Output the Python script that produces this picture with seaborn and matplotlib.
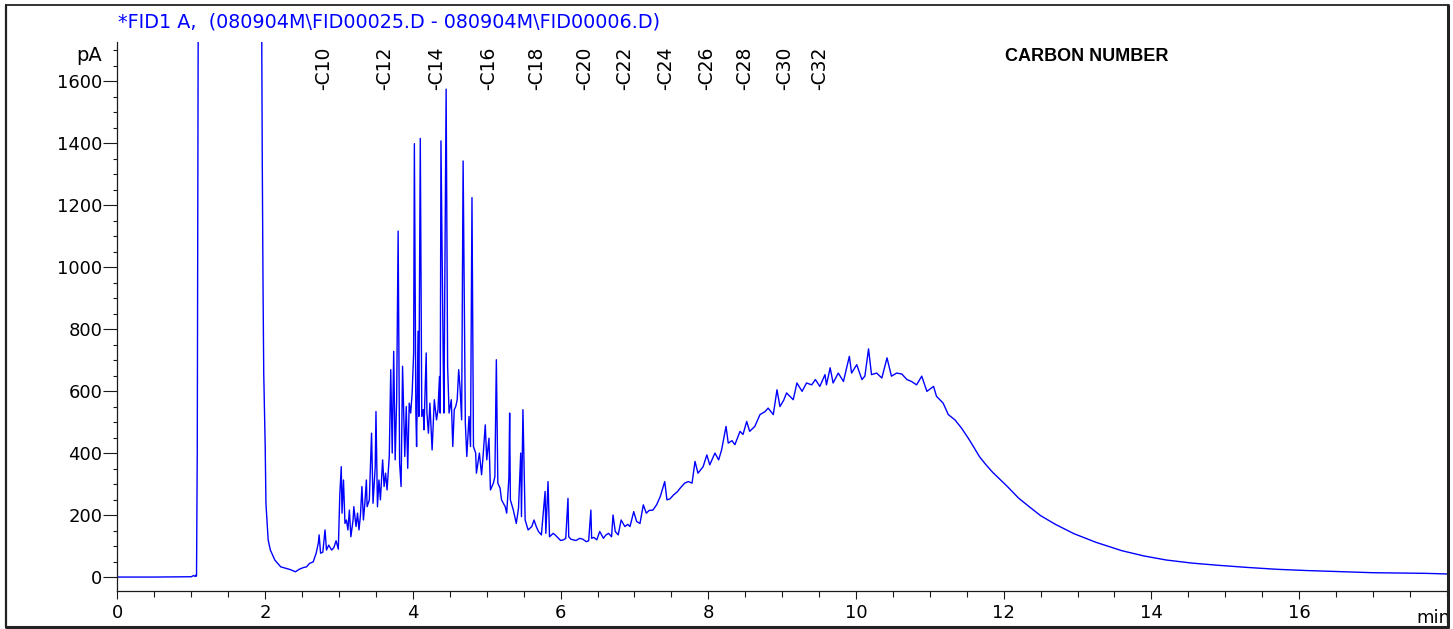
import pandas as pd
import matplotlib
matplotlib.use("Agg")
import matplotlib.pyplot as plt
import seaborn as sns
from matplotlib.ticker import MultipleLocator

# --- trace, split into retention-time segments ---
# solvent front (goes off scale between ~1.1 and ~1.95 min)
solvent_t = [0.0, 0.5, 1.0, 1.03, 1.05, 1.06, 1.07, 1.08, 1.10, 1.12, 1.90, 1.94,
             1.955, 1.96, 1.97, 1.98, 2.00, 2.01, 2.03, 2.04, 2.07, 2.13, 2.21,
             2.28, 2.34, 2.41, 2.46]
solvent_pa = [0, 0, 1, 5, 2, 6, 3, 400, 2600, 9000, 9000, 2600,
              1606, 1358, 960, 659, 421, 238, 163, 120, 87, 55, 33,
              28, 24, 17, 25]

early_t = [2.51, 2.56, 2.60, 2.65, 2.69, 2.72, 2.73, 2.75, 2.78, 2.81, 2.83, 2.86,
           2.90, 2.93, 2.96, 2.99]
early_pa = [30, 33, 44, 49, 77, 110, 136, 77, 80, 152, 87, 103,
            87, 95, 117, 90]

# resolved n-alkane cluster C11 - C16
cluster_t = [3.01, 3.03, 3.04, 3.06, 3.08, 3.10, 3.12, 3.14, 3.16, 3.19, 3.20,
             3.23, 3.25, 3.27, 3.29, 3.31, 3.33, 3.35, 3.37, 3.38, 3.41,
             3.43, 3.44, 3.46, 3.49, 3.50, 3.52, 3.54, 3.56, 3.59, 3.61,
             3.63, 3.65, 3.68, 3.70, 3.72, 3.74, 3.76, 3.78, 3.80, 3.82,
             3.84, 3.86, 3.89, 3.91, 3.93, 3.95, 3.97, 3.99, 4.01, 4.02,
             4.04, 4.05, 4.07, 4.08, 4.10, 4.12, 4.14, 4.15, 4.18, 4.19,
             4.21, 4.23, 4.26, 4.29, 4.32, 4.34, 4.36, 4.37, 4.38, 4.41,
             4.42, 4.45, 4.47, 4.49, 4.52, 4.54, 4.56, 4.58, 4.60, 4.62,
             4.64, 4.66, 4.68, 4.71, 4.73, 4.76, 4.78, 4.80, 4.82]
cluster_pa = [265, 356, 206, 313, 173, 184, 152, 216, 130, 184, 227,
              163, 206, 152, 200, 292, 184, 240, 313, 227, 249,
              389, 464, 238, 356, 534, 227, 313, 249, 378, 292,
              335, 281, 389, 669, 400, 728, 378, 572, 1116, 368,
              292, 680, 389, 550, 351, 561, 529, 594, 723, 1398,
              529, 421, 793, 518, 1415, 518, 540, 475, 723, 529,
              464, 561, 410, 572, 507, 540, 647, 529, 1407, 712,
              529, 1574, 680, 529, 572, 421, 540, 550, 572, 669,
              604, 507, 1342, 497, 389, 518, 421, 1224, 421]

late_t = [4.85, 4.86, 4.90, 4.93, 4.95, 4.98, 5.00, 5.03, 5.05, 5.09,
          5.11, 5.13, 5.15, 5.18, 5.20, 5.25, 5.27, 5.30, 5.31, 5.32,
          5.36, 5.40, 5.43, 5.46, 5.47, 5.49, 5.52, 5.56, 5.61, 5.64,
          5.67, 5.70, 5.74, 5.79, 5.80, 5.83, 5.85, 5.90, 5.93, 5.97,
          6.00, 6.04, 6.07, 6.10, 6.11, 6.14, 6.17, 6.21, 6.26, 6.30,
          6.35, 6.38, 6.41, 6.42, 6.45, 6.49, 6.53, 6.58, 6.61, 6.65,
          6.69, 6.71, 6.74, 6.78, 6.82, 6.87, 6.91, 6.94, 6.99, 7.03, 7.075]
late_pa = [400, 335, 400, 330, 389, 491, 378, 448, 281, 303,
           324, 701, 303, 287, 249, 227, 206, 320, 529, 249,
           216, 173, 222, 400, 195, 540, 184, 152, 163, 184,
           163, 147, 136, 276, 141, 308, 130, 141, 135, 125,
           118, 120, 125, 254, 130, 122, 120, 118, 125, 122,
           114, 117, 216, 125, 128, 120, 147, 125, 135, 141,
           130, 200, 147, 136, 184, 163, 170, 163, 211, 179, 173]

# unresolved complex mixture hump
hump_t = [7.12, 7.16, 7.20, 7.25, 7.30, 7.35, 7.41, 7.44, 7.48, 7.53,
          7.58, 7.62, 7.68, 7.73, 7.78, 7.82, 7.86, 7.93, 7.98, 8.02,
          8.09, 8.14, 8.18, 8.24, 8.27, 8.32, 8.36, 8.43, 8.47, 8.52,
          8.56, 8.63, 8.70, 8.77, 8.81, 8.88, 8.93, 8.97, 9.02, 9.06,
          9.15, 9.20, 9.27, 9.33, 9.40, 9.45, 9.51, 9.58, 9.60, 9.65,
          9.69, 9.76, 9.83, 9.91, 9.94, 10.01, 10.08, 10.12, 10.17, 10.21,
          10.28, 10.35, 10.42, 10.48, 10.55, 10.62, 10.69, 10.75, 10.82, 10.89,
          10.96, 11.05, 11.09, 11.18, 11.25, 11.34, 11.43, 11.52, 11.59, 11.67]
hump_pa = [233, 206, 215, 216, 233, 260, 308, 249, 252, 265,
           275, 287, 303, 308, 303, 373, 335, 356, 394, 362,
           400, 378, 410, 486, 432, 440, 427, 470, 460, 502,
           470, 486, 524, 534, 545, 524, 604, 550, 570, 594,
           572, 626, 599, 626, 620, 637, 615, 653, 620, 675,
           626, 658, 631, 712, 658, 685, 637, 648, 736, 653,
           658, 642, 707, 648, 658, 655, 637, 631, 620, 648,
           599, 615, 583, 561, 524, 507, 480, 448, 421, 389]

# decaying tail of the hump
tail_t = [11.75, 11.85, 11.95, 12.05, 12.20, 12.35, 12.50, 12.70, 12.95, 13.25,
          13.60, 13.90, 14.20, 14.55, 14.90, 15.30, 15.70, 16.10, 16.50, 17.00,
          17.40, 17.70, 18.00]
tail_pa = [365, 338, 315, 292, 255, 226, 198, 170, 140, 112,
           85, 68, 55, 45, 38, 31, 25, 21, 18, 14,
           13, 12, 10]

# carbon number markers
carbon_labels = ['-C10', '-C12', '-C14', '-C16', '-C18', '-C20',
                 '-C22', '-C24', '-C26', '-C28', '-C30', '-C32']
carbon_t = [2.796, 3.622, 4.322, 5.030, 5.680, 6.330,
            6.870, 7.425, 7.980, 8.495, 9.036, 9.510]

x_ticks = [0, 2, 4, 6, 8, 10, 12, 14, 16]

# --- build one trace table ---
segments = [(solvent_t, solvent_pa), (early_t, early_pa), (cluster_t, cluster_pa),
            (late_t, late_pa), (hump_t, hump_pa), (tail_t, tail_pa)]
t_all, pa_all = [], []
for ts, vs in segments:
    assert len(ts) == len(vs)
    t_all += ts
    pa_all += vs
trace = pd.DataFrame({'time': t_all, 'pA': pa_all})

# --- plot ---
sns.set_style("ticks")
plt.rcParams['font.family'] = ['DejaVu Sans']
plt.rcParams['text.color'] = 'black'
plt.rcParams['xtick.color'] = 'black'
plt.rcParams['ytick.color'] = 'black'

W, H = 1453, 629
fig = plt.figure(figsize=(W / 100, H / 100), dpi=100)
ax = fig.add_axes([117.5 / W, 1 - 591 / H, (1446.8 - 117.5) / W, (591 - 42.3) / H])

sns.lineplot(data=trace, x='time', y='pA', ax=ax, color='#0000ff',
             linewidth=1.0, estimator=None, sort=False)

ax.set_xlim(0, 18)
ax.set_ylim(-45, 1725)
ax.set_xticks(x_ticks)
ax.xaxis.set_minor_locator(MultipleLocator(0.5))
ax.yaxis.set_major_locator(MultipleLocator(200))
ax.yaxis.set_minor_locator(MultipleLocator(50))
ax.set_xlabel('')
ax.set_ylabel('')

sns.despine(ax=ax)
for side in ['left', 'bottom']:
    ax.spines[side].set_color('#1a1a1a')
    ax.spines[side].set_linewidth(0.9)
ax.tick_params(axis='x', which='major', length=5.5, width=0.8, pad=4,
               labelsize=13, color='#1a1a1a', labelcolor='black')
ax.tick_params(axis='x', which='minor', length=4, width=0.8, color='#1a1a1a')
ax.tick_params(axis='y', which='major', length=10, width=0.8, pad=1,
               labelsize=13, color='#1a1a1a', labelcolor='black')
ax.tick_params(axis='y', which='minor', length=3, width=0.8, color='#1a1a1a')

for lab, t in zip(carbon_labels, carbon_t):
    ax.text(t, 1571, lab, rotation=90, ha='center', va='bottom',
            fontsize=13.5, color='black')

# overlay in pixel coordinates for frame and header texts
ov = fig.add_axes([0, 0, 1, 1])
ov.set_xlim(0, W)
ov.set_ylim(H, 0)
ov.axis('off')
ov.patch.set_alpha(0)

ov.text(118, 27, '*FID1 A,  (080904M\\FID00025.D - 080904M\\FID00006.D)',
        color='#0000ff', fontsize=13.8, ha='left', va='baseline')
ov.text(102, 61, 'pA', fontsize=14, ha='right', va='baseline', color='black')
ov.text(1005, 61, 'CARBON NUMBER', fontsize=13, fontweight='bold', color='black',
        family=['Liberation Sans', 'DejaVu Sans'], ha='left', va='baseline')
ov.text(1416, 623, 'min', fontsize=13, ha='left', va='baseline', color='black')

ov.fill_between([1448, W], 0, H, color='white', zorder=5)
ov.plot([6, 6], [5, 627], color='#222222', lw=1.6, zorder=6)
ov.plot([6, 1447.5], [5, 5], color='#222222', lw=1.3, zorder=6)
ov.plot([1447.5, 1447.5], [5, 627], color='#222222', lw=2.2, zorder=6)
ov.plot([6, 1447.5], [627, 627], color='#222222', lw=2.2, zorder=6)

fig.savefig('out.png', dpi=100)
